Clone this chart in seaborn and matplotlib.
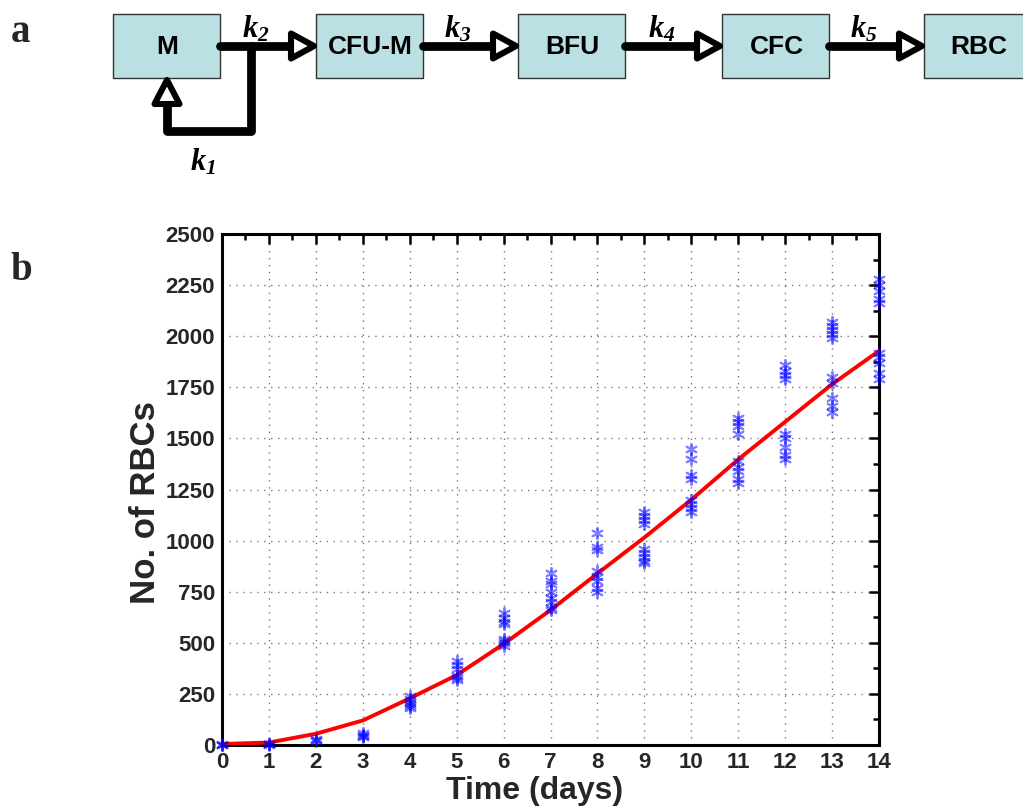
import matplotlib
matplotlib.use("Agg")
import matplotlib.pyplot as plt
from matplotlib.patches import Rectangle, Polygon
from matplotlib.ticker import MultipleLocator
import numpy as np
import pandas as pd
import seaborn as sns

# ---- data -------------------------------------------------------------
stages = ["M", "CFU-M", "BFU", "CFC", "RBC"]
rates = ["k_2", "k_3", "k_4", "k_5"]
feedback_rate = "k_1"

obs_days = [0] * 3 + [1] * 3 + [2] * 3 + [3] * 4 + [4] * 6 + [5] * 6 \
    + [6] * 8 + [7] * 8 + [8] * 8 + [9] * 9 + [10] * 8 + [11] * 9 \
    + [12] * 9 + [13] * 10 + [14] * 10
obs_rbc = [
    5, 2, 0,
    5, 3, 2,
    30, 25, 20,
    60, 50, 45, 40,
    240, 225, 210, 200, 190, 180,
    410, 390, 370, 340, 330, 320,
    645, 620, 600, 590, 520, 510, 500, 485,
    840, 800, 790, 750, 720, 700, 670, 660,
    1035, 970, 955, 850, 820, 800, 770, 750,
    1140, 1120, 1100, 1080, 960, 940, 920, 900, 890,
    1450, 1400, 1320, 1300, 1200, 1180, 1160, 1140,
    1600, 1580, 1560, 1520, 1390, 1360, 1340, 1300, 1280,
    1860, 1830, 1810, 1790, 1520, 1500, 1460, 1420, 1400,
    2070, 2050, 2030, 2010, 1990, 1800, 1770, 1700, 1660, 1630,
    2280, 2250, 2220, 2180, 2160, 1920, 1900, 1870, 1820, 1790,
]
fit_days = list(range(15))
fit_rbc = [5, 12, 55, 120, 228, 342, 494, 660, 839, 1015, 1200, 1397, 1581, 1765, 1928]

obs = pd.DataFrame({"day": obs_days, "rbc": obs_rbc})
fit = pd.DataFrame({"day": fit_days, "rbc": fit_rbc})

# ---- style ------------------------------------------------------------
sns.set_theme(style="white")
plt.rcParams["font.family"] = ["Liberation Sans", "DejaVu Sans"]
plt.rcParams["mathtext.fontset"] = "custom"
plt.rcParams["mathtext.it"] = "Liberation Serif:italic:bold"
plt.rcParams["mathtext.rm"] = "Liberation Serif:italic:bold"

W, H = 1023, 811
fig = plt.figure(figsize=(W / 100, H / 100), dpi=100)

# ---- panel a: lineage scheme (pixel coordinates) ------------------------
dax = fig.add_axes([0, 0, 1, 1], zorder=0)
dax.set_xlim(0, W)
dax.set_ylim(H, 0)
dax.axis("off")

box_left = [113, 316, 518, 722, 924]
box_w = 107
box_top, box_bot = 14, 78
yc = 46
box_fc = "#bbe0e3"
shaft_lw = 6.3
head_lw = 4.4
head_len, head_half = 25, 12.5

for name, x0 in zip(stages, box_left):
    dax.add_patch(Rectangle((x0, box_top), box_w, box_bot - box_top,
                            facecolor=box_fc, edgecolor="#333333", lw=1.0,
                            clip_on=False, zorder=2))
    dax.text(x0 + box_w / 2 + 1, yc + 1, name, ha="center", va="center",
             fontsize=19, fontweight="bold", color="black", zorder=3)


def head_right(x_tip, y):
    return Polygon([(x_tip - head_len, y - head_half), (x_tip - 2, y),
                    (x_tip - head_len, y + head_half)],
                   closed=True, facecolor="white", edgecolor="black",
                   lw=head_lw, joinstyle="round", zorder=4)


for i, lab in enumerate(rates):
    x_start = box_left[i] + box_w
    x_end = box_left[i + 1]
    dax.plot([x_start, x_end - head_len], [yc, yc], color="black", lw=shaft_lw,
             solid_capstyle="round", zorder=3)
    dax.add_patch(head_right(x_end, yc))
    dax.text(x_end - 60, 29, rf"$\mathit{{{lab}}}$", ha="center", va="center",
             fontsize=22, color="black")

# self-renewal loop back into M
jx, ly, lx = 251, 131, 167
dax.plot([jx, jx, lx, lx], [yc, ly, ly, 104], color="black", lw=shaft_lw,
         solid_joinstyle="round", solid_capstyle="round", zorder=3)
dax.add_patch(Polygon([(lx - head_half, 104), (lx, 80), (lx + head_half, 104)],
                      closed=True, facecolor="white", edgecolor="black",
                      lw=head_lw, joinstyle="round", zorder=4))
dax.text(203, 162, rf"$\mathit{{{feedback_rate}}}$", ha="center", va="center",
         fontsize=22, color="black")

dax.text(21, 33, "a", ha="center", va="center", fontsize=28, fontweight="bold",
         family="Liberation Serif")
dax.text(21, 270, "b", ha="center", va="center", fontsize=28, fontweight="bold",
         family="Liberation Serif")

# ---- panel b: RBC counts over time ------------------------------------
ax = fig.add_axes([222 / W, 1 - 745 / H, (879 - 222) / W, (745 - 234) / H], zorder=1)
ax.set_facecolor("none")

sns.lineplot(data=fit, x="day", y="rbc", ax=ax, color="red", lw=2.8, zorder=3)
sns.scatterplot(data=obs, x="day", y="rbc", ax=ax, marker=(6, 2, 0), s=65,
                color="blue", edgecolor="blue", linewidth=1.4, alpha=0.5,
                zorder=4, clip_on=False)

ax.set_xlim(0, 14)
ax.set_ylim(0, 2500)
ax.xaxis.set_major_locator(MultipleLocator(1))
ax.xaxis.set_minor_locator(MultipleLocator(0.5))
ax.yaxis.set_major_locator(MultipleLocator(250))
ax.yaxis.set_minor_locator(MultipleLocator(125))
ax.grid(True, which="major", linestyle=(0, (1, 4)), color="#777777", lw=1.0)
ax.tick_params(which="both", direction="in", top=True, right=True,
               labelsize=16, width=1.8, color="black", pad=5)
ax.tick_params(which="major", length=7)
ax.tick_params(which="minor", length=4)
for lbl in ax.get_xticklabels() + ax.get_yticklabels():
    lbl.set_fontweight("bold")
for sp in ax.spines.values():
    sp.set_linewidth(2.2)
    sp.set_color("black")

ax.set_xlabel("Time (days)", fontsize=23, fontweight="bold")
ax.set_ylabel("No. of RBCs", fontsize=25, fontweight="bold")
ax.xaxis.set_label_coords(0.475, -0.061)
ax.yaxis.set_label_coords(-0.092, 0.475)

fig.savefig("out.png", dpi=100)
